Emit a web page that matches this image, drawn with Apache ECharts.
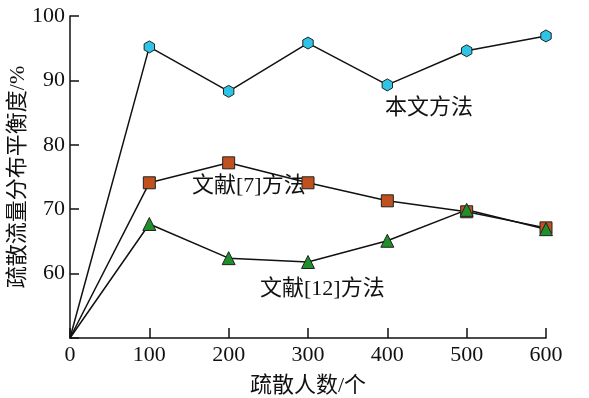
<!DOCTYPE html>
<html><head><meta charset="utf-8">
<script src="https://cdn.jsdelivr.net/npm/echarts@6/dist/echarts.min.js"></script>
<style>html,body{margin:0;padding:0;background:#fff}#c{width:589px;height:398px}</style>
</head><body><div id="c"></div>
<script>
const xValues = [0, 100, 200, 300, 400, 500, 600];
const oursValues = [50, 95.2, 88.3, 95.8, 89.3, 94.6, 96.9];
const ref7Values = [50, 74.1, 77.2, 74.1, 71.3, 69.6, 67.1];
const ref12Values = [50, 67.7, 62.4, 61.8, 65.1, 69.9, 66.9];
const seriesNames = ['本文方法', '文献[7]方法', '文献[12]方法'];
const xName = '疏散人数/个';
const yName = '疏散流量分布平衡度/%';

const font = '"Liberation Serif", "Noto Sans CJK SC", serif';
const hexPath = 'path://M-0.866,-0.5 L0,-1 L0.866,-0.5 L0.866,0.5 L0,1 L-0.866,0.5 Z';
function mk(vals){ return xValues.map((x,i)=>[x, vals[i]]); }
function ser(name, vals, symbol, color, size){
  return {
    name, type:'line', data: mk(vals), symbol, symbolSize: size,
    showSymbol: true,
    lineStyle:{color:'#111', width:1.5},
    itemStyle:{color, borderColor:'#222', borderWidth:1},
    symbolKeepAspect: true,
    z: 3
  };
}
const chart = echarts.init(document.getElementById('c'), null, {renderer:'canvas'});
const s1 = ser(seriesNames[0], oursValues, hexPath, '#2ec4e6', 12);
const s2 = ser(seriesNames[1], ref7Values, 'rect', '#c0501e', 12);
const s3 = ser(seriesNames[2], ref12Values, 'triangle', '#1f8f2a', 13);
[s1,s2,s3].forEach(s=>{ s.data[0] = {value: s.data[0], symbol:'none'}; });
chart.setOption({
  animation:false,
  grid:{left:70, right:43, top:16, bottom:60, containLabel:false, outerBoundsMode:'none'},
  xAxis:{type:'value', min:0, max:600, interval:100,
    name:xName, nameLocation:'middle', nameGap:37, nameMoveOverlap:false,
    nameTextStyle:{fontFamily:font, fontSize:22, color:'#111'},
    axisLine:{lineStyle:{color:'#111', width:1.5}},
    axisTick:{inside:true, length:10, lineStyle:{color:'#111', width:1.5}},
    axisLabel:{fontFamily:font, fontSize:22, color:'#111', margin:6},
    splitLine:{show:false}},
  yAxis:{type:'value', min:50, max:100, interval:10,
    name:yName, nameLocation:'middle', nameGap:41, nameRotate:90, nameMoveOverlap:false,
    nameTextStyle:{fontFamily:font, fontSize:22, color:'#111'},
    axisLine:{show:true, lineStyle:{color:'#111', width:1.5}},
    axisTick:{inside:true, length:9, lineStyle:{color:'#111', width:1.5}},
    axisLabel:{fontFamily:font, fontSize:22, color:'#111', margin:5,
      formatter: v => v===50 ? '' : String(v)},
    splitLine:{show:false}},
  series:[s1,s2,s3],
  graphic:[
    {type:'text', left:385, top:97, style:{text:seriesNames[0], font:'22px '+font, fill:'#111'}},
    {type:'text', left:192, top:175, style:{text:seriesNames[1], font:'22px '+font, fill:'#111'}},
    {type:'text', left:260, top:278, style:{text:seriesNames[2], font:'22px '+font, fill:'#111'}}
  ]
});
</script></body></html>
